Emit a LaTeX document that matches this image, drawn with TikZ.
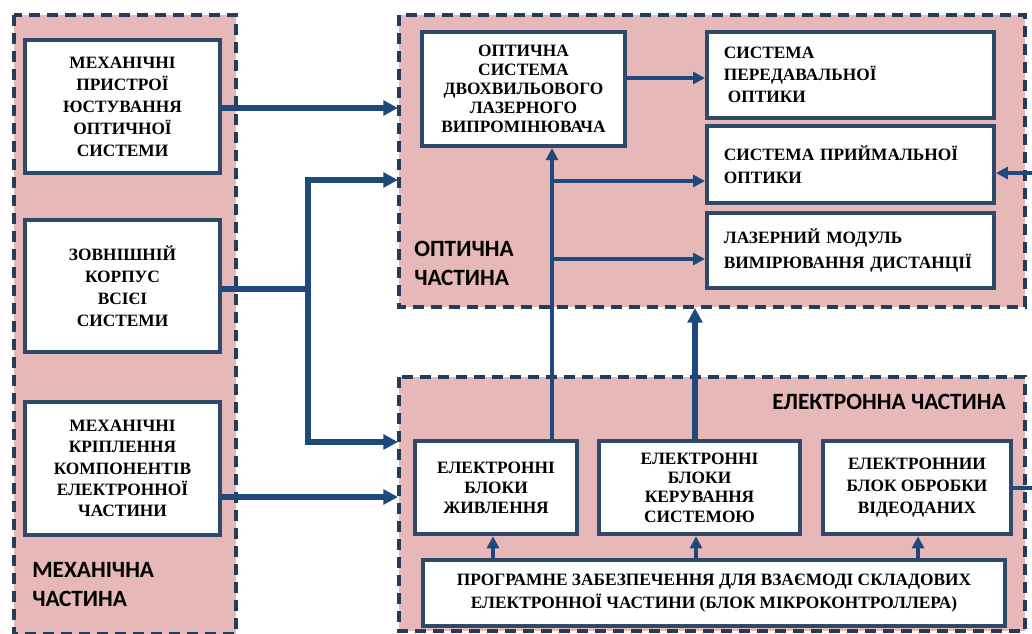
\documentclass[tikz,border=0pt]{standalone}
\usepackage{fontspec}
\setmainfont{Liberation Serif}
\newfontfamily\labfont{Carlito}
\usetikzlibrary{arrows.meta}
\definecolor{pinkfill}{HTML}{E6B8B7}
\definecolor{dashcol}{HTML}{243C5C}
\definecolor{boxcol}{HTML}{2E4A6B}
\definecolor{arrcol}{HTML}{1F497D}
\tikzset{
  part/.style={fill=pinkfill, draw=dashcol, line width=3pt, dash pattern=on 8pt off 5.5pt},
  blk/.style={draw=boxcol, fill=white, line width=3.2pt, inner sep=0pt, font=\bfseries\fontsize{13}{15}\selectfont},
  cbox/.style={blk, align=center},
  lbox/.style={blk, align=left},
  parttext/.style={font=\labfont\bfseries\fontsize{17.5}{22}\selectfont, align=left, inner sep=0pt},
  thickarr/.style={draw=arrcol, line width=4pt, -{Triangle[length=11pt,width=11pt]}},
  thinarr/.style={draw=arrcol, line width=2.7pt, -{Triangle[length=9pt,width=9pt]}},
  thinline/.style={draw=arrcol, line width=2.7pt},
  thickline/.style={draw=arrcol, line width=4pt}
}
\begin{document}
\begin{tikzpicture}[x=0.75pt,y=-0.75pt]
\useasboundingbox (0,0) rectangle (1032,633);
\clip (0,0) rectangle (1032,633);
\fill[white] (0,0) rectangle (1032,633);
% containers
\path[part] (14,15) rectangle (236,634);
\path[part] (399,15) rectangle (1025,307);
\path[part] (399,377) rectangle (1025,631);
% part labels
\node[parttext, anchor=north west] (lmech) at (32,562) {МЕХАНІЧНА\\ЧАСТИНА};
\node[parttext, anchor=north west] (lopt) at (414,241) {ОПТИЧНА\\ЧАСТИНА};
\node[parttext, anchor=east] (lel) at (1006,402) {ЕЛЕКТРОННА ЧАСТИНА};
% mechanical boxes
\node[cbox, minimum width=146pt, minimum height=100pt, font=\bfseries\fontsize{13}{16.5}\selectfont] (m1) at (122.5,106.5) {МЕХАНІЧНІ\\ПРИСТРОЇ\\ЮСТУВАННЯ\\ОПТИЧНОЇ\\СИСТЕМИ};
\node[cbox, minimum width=146pt, minimum height=99pt, font=\bfseries\fontsize{13}{16.5}\selectfont] (m2) at (122.5,286) {ЗОВНІШНІЙ\\КОРПУС\\ВСІЄІ\\СИСТЕМИ};
\node[cbox, minimum width=146pt, minimum height=100pt, font=\bfseries\fontsize{13}{16}\selectfont] (m3) at (122.5,468.5) {МЕХАНІЧНІ\\КРІПЛЕННЯ\\КОМПОНЕНТІВ\\ЕЛЕКТРОННОЇ\\ЧАСТИНИ};
% optical boxes
\node[cbox, minimum width=152pt, minimum height=85.5pt, font=\bfseries\fontsize{13}{14.2}\selectfont] (o1) at (523.5,89) {ОПТИЧНА\\СИСТЕМА\\ДВОХВИЛЬОВОГО\\ЛАЗЕРНОГО\\ВИПРОМІНЮВАЧА};
\node[lbox, minimum width=215pt, minimum height=64.5pt, text width=190pt, font=\bfseries\fontsize{13}{16.5}\selectfont] (o2) at (850.5,75) {СИСТЕМА\\ПЕРЕДАВАЛЬНОЇ\\\hspace*{3pt}ОПТИКИ};
\node[lbox, minimum width=215pt, minimum height=57.75pt, text width=190pt, font=\bfseries\fontsize{13}{17.5}\selectfont] (o3) at (850.5,164.5) {СИСТЕМА ПРИЙМАЛЬНОЇ\\ОПТИКИ};
\node[lbox, minimum width=215pt, minimum height=56pt, text width=190pt, font=\bfseries\fontsize{13}{18.5}\selectfont] (o4) at (850.5,250.5) {ЛАЗЕРНИЙ МОДУЛЬ\\ВИМІРЮВАННЯ ДИСТАНЦІЇ};
% electronic boxes
\node[cbox, minimum width=121.5pt, minimum height=70pt, font=\bfseries\fontsize{13}{15}\selectfont] (e1) at (496,487.5) {ЕЛЕКТРОННІ\\БЛОКИ\\ЖИВЛЕННЯ};
\node[cbox, minimum width=150.75pt, minimum height=70pt, font=\bfseries\fontsize{13}{14.5}\selectfont] (e2) at (699.5,487.5) {ЕЛЕКТРОННІ\\БЛОКИ\\КЕРУВАННЯ\\СИСТЕМОЮ};
\node[cbox, minimum width=141pt, minimum height=70pt, font=\bfseries\fontsize{13}{16.5}\selectfont] (e3) at (917,487.5) {ЕЛЕКТРОННИИ\\БЛОК ОБРОБКИ\\ВІДЕОДАНИХ};
\node[cbox, minimum width=436.5pt, minimum height=49.5pt, font=\bfseries\fontsize{13}{17}\selectfont] (e4) at (714,593) {ПРОГРАМНЕ ЗАБЕЗПЕЧЕННЯ ДЛЯ ВЗАЄМОДІ СКЛАДОВИХ\\ЕЛЕКТРОННОЇ ЧАСТИНИ (БЛОК МІКРОКОНТРОЛЛЕРА)};
% coordinates
\coordinate (optin1) at (398,108);
\coordinate (j) at (308,289);
\coordinate (jt) at (308,180);
\coordinate (jb) at (308,442);
\coordinate (optin2) at (398,180);
\coordinate (elin1) at (398,442);
\coordinate (elin2) at (398,497);
\coordinate (optbot) at (695,308);
\coordinate (rin) at (1040,173);
\coordinate (rout) at (1040,488);
% mechanical connectors
\draw[thickarr] (m1.east |- optin1) -- (optin1);
\draw[thickline] (m2.east |- j) -- (j);
\draw[thickline, line cap=rect] (jt) -- (jb);
\draw[thickarr] (jt) -- (optin2);
\draw[thickarr] (jb) -- (elin1);
\draw[thickarr] (m3.east |- elin2) -- (elin2);
% optical connectors
\draw[thinarr] (o1.east |- 0,78) -- (o2.west |- 0,78);
\draw[thinarr] (e1.north -| 552,0) -- (o1.south -| 552,0);
\draw[thinarr] (552,181) -- (o3.west |- 0,181);
\draw[thinarr] (552,259) -- (o4.west |- 0,259);
\draw[thinarr] (rin) -- (o3.east |- rin);
% electronic connectors
\draw[thickarr] (e2.north -| optbot) -- (optbot);
\draw[thinarr] (e4.north -| 493,0) -- (e1.south -| 493,0);
\draw[thinarr] (e4.north -| 696,0) -- (e2.south -| 696,0);
\draw[thinarr] (e4.north -| 918,0) -- (e3.south -| 918,0);
\draw[thinline] (e3.east |- rout) -- (rout);
\end{tikzpicture}
\end{document}
